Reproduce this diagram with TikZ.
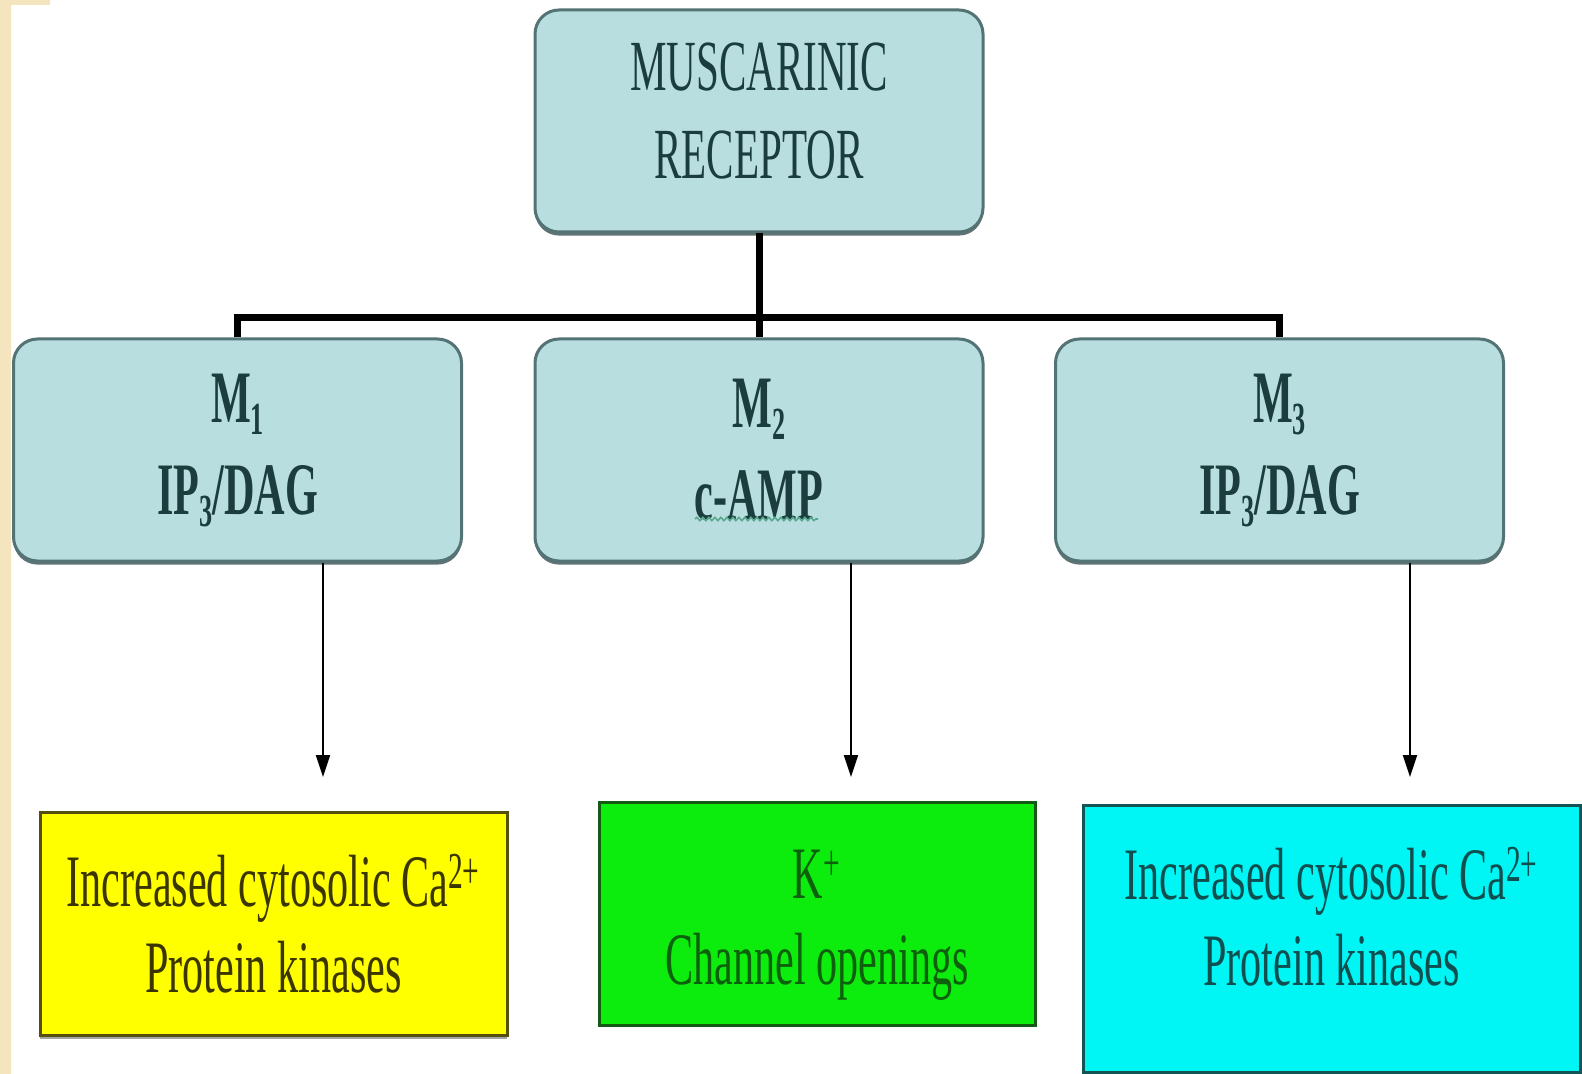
\documentclass[tikz,border=0pt]{standalone}
\usepackage{fontspec}
\setmainfont{Liberation Serif}[FakeStretch=0.57]
\usepackage{tikz}
\usetikzlibrary{arrows.meta,shadows,decorations.pathmorphing}
\definecolor{LBlue}{rgb}{0.72,0.87,0.88}
\definecolor{BEdge}{rgb}{0.33,0.45,0.46}
\definecolor{BText}{rgb}{0.11,0.24,0.24}
\definecolor{Beige}{rgb}{0.96,0.90,0.75}
\definecolor{YFill}{rgb}{1,1,0}
\definecolor{YEdge}{rgb}{0.33,0.31,0.05}
\definecolor{YText}{rgb}{0.23,0.21,0}
\definecolor{GFill}{rgb}{0.05,0.93,0.05}
\definecolor{GEdge}{rgb}{0.08,0.35,0.08}
\definecolor{GText}{rgb}{0.05,0.38,0.05}
\definecolor{CFill}{rgb}{0,0.96,0.96}
\definecolor{CEdge}{rgb}{0.08,0.33,0.33}
\definecolor{CText}{rgb}{0.06,0.31,0.31}
\definecolor{Squig}{rgb}{0.35,0.66,0.56}
\newcommand\lsub[1]{\raisebox{-6pt}{\fontsize{23}{23}\selectfont #1}}

\tikzset{
  rbox/.style={draw=BEdge, line width=1.5pt, fill=LBlue, rounded corners=12pt,
    text=BText, align=center, minimum width=224pt, minimum height=111pt,
    font=\fontsize{36}{44}\selectfont,
    drop shadow={shadow xshift=0pt, shadow yshift=-1.8pt, fill=BEdge!70!black, opacity=0.8}},
  mbox/.style={rbox, font=\bfseries\fontsize{37}{46}\selectfont},
  sbox/.style={draw, line width=1.5pt, align=center, minimum height=111.5pt,
    font=\fontsize{37}{43}\selectfont},
  bar/.style={line width=3.5pt},
  arr/.style={line width=1pt, -{Triangle[length=11pt,width=7pt]}}
}

\begin{document}
\begin{tikzpicture}[x=0.5pt, y=-0.5pt]
\useasboundingbox (0,0) rectangle (1582,1074);
\fill[Beige] (0,0) rectangle (11,1074) (0,0) rectangle (50,5);

\node[rbox] (top) at (759,121) {MUSCARINIC\\RECEPTOR\rule[-10pt]{0pt}{0pt}};

\node[mbox] (m1) at (237.5,450) {M\lsub{1}\\IP\lsub{3}/DAG};
\node[mbox] (m2) at (759,450) {M\lsub{2}\\c-AMP};
\node[mbox] (m3) at (1279.5,450) {M\lsub{3}\\IP\lsub{3}/DAG};

\node[sbox, draw=YEdge, fill=YFill, text=YText, minimum width=233.5pt,
  drop shadow={shadow xshift=0pt, shadow yshift=-1.8pt, fill=gray, opacity=0.7}] (r1) at (273.5,923.5)
  {Increased cytosolic Ca\textsuperscript{2+}\\Protein kinases};
\node[sbox, draw=GEdge, fill=GFill, text=GText, minimum width=218pt] (r2) at (817,913.5)
  {\rule{0pt}{36pt}K\textsuperscript{+}\\Channel openings};
\node[sbox, draw=CEdge, fill=CFill, text=CText, minimum width=248.5pt, minimum height=133.5pt] (r3) at (1331.5,938.5)
  {Increased cytosolic Ca\textsuperscript{2+}\\Protein kinases\rule[-22pt]{0pt}{0pt}};

\coordinate (j) at (759,318);
\draw[bar] (top.south) -- (m2.north);
\draw[bar] (m1.north) -- (m1.north |- j) -- (m3.north |- j) -- (m3.north);

\coordinate (a1) at (323,777);
\coordinate (a2) at (851,777);
\coordinate (a3) at (1410,777);
\draw[arr] (a1 |- m1.south) -- (a1);
\draw[arr] (a2 |- m2.south) -- (a2);
\draw[arr] (a3 |- m3.south) -- (a3);

\draw[Squig, line width=0.8pt, decorate, decoration={snake, amplitude=0.8pt, segment length=3pt}] (695,519) -- (818,519);
\end{tikzpicture}
\end{document}
